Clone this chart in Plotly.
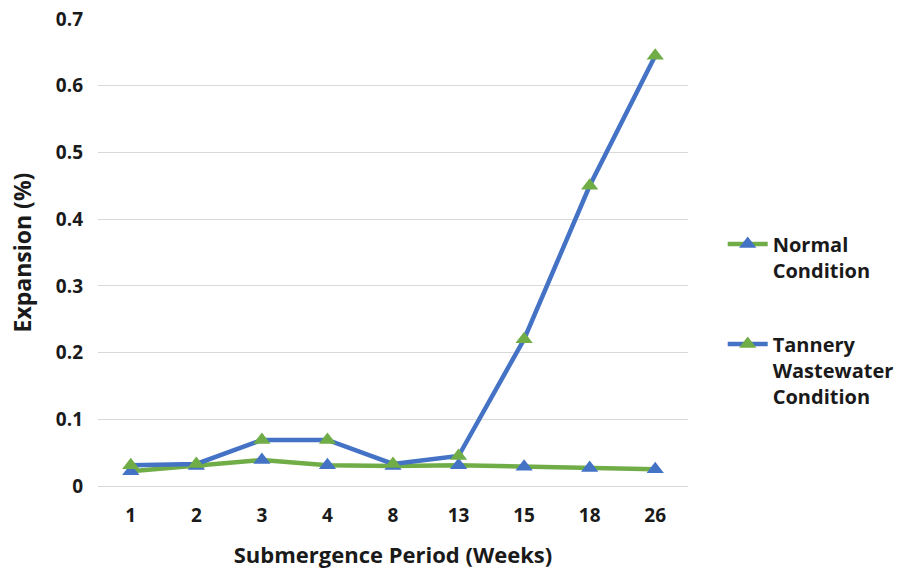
import plotly.graph_objects as go

weeks = ["1", "2", "3", "4", "8", "13", "15", "18", "26"]
normal = [0.022, 0.030, 0.039, 0.031, 0.030, 0.031, 0.029, 0.027, 0.025]
tannery = [0.031, 0.033, 0.069, 0.069, 0.033, 0.045, 0.220, 0.450, 0.645]

GREEN = "#70AD47"
BLUE = "#4472C4"
FONT = "Open Sans"
TEXT = "#1a1a1a"

fig = go.Figure()
fig.add_trace(go.Scatter(
    x=weeks, y=normal, mode="lines+markers", name="Normal<br>Condition",
    legendgroup="normal",
    line=dict(color=GREEN, width=4.5),
    marker=dict(symbol="triangle-up", size=15, color=BLUE),
))
fig.add_trace(go.Scatter(
    x=weeks, y=tannery, mode="lines+markers", name="Tannery<br>Wastewater<br>Condition",
    legendgroup="tannery",
    line=dict(color=BLUE, width=4.5),
    marker=dict(symbol="triangle-up", size=15, color=GREEN),
))

fig.update_layout(
    width=900, height=573,
    margin=dict(l=98, r=212, t=19, b=87, autoexpand=False),
    paper_bgcolor="white", plot_bgcolor="white",
    font=dict(family=FONT, size=19, color=TEXT, weight="bold"),
    xaxis=dict(
        type="category", automargin=False, range=[-0.5, 8.5],
        title=dict(text="Submergence Period (Weeks)",
                   font=dict(size=22, weight="bold"), standoff=20),
        tickfont=dict(size=19, weight="bold"),
        showgrid=False, showline=True, linecolor="#D9D9D9", linewidth=1,
        ticks="", ticklabelstandoff=12,
    ),
    yaxis=dict(
        range=[0, 0.7], dtick=0.1, automargin=False,
        title=dict(text="Expansion (%)", font=dict(size=23, weight="bold"), standoff=17),
        tickfont=dict(size=19, weight="bold"),
        showgrid=True, gridcolor="#D9D9D9", gridwidth=1,
        zeroline=False, showline=False, ticks="", ticklabelstandoff=14,
    ),
    legend=dict(
        xref="container", x=0.803, y=0.56, xanchor="left", yanchor="top", valign="top",
        font=dict(size=20, weight="bold"), tracegroupgap=45, itemwidth=40,
        bgcolor="rgba(0,0,0,0)",
    ),
)

fig.write_html("out.html")
